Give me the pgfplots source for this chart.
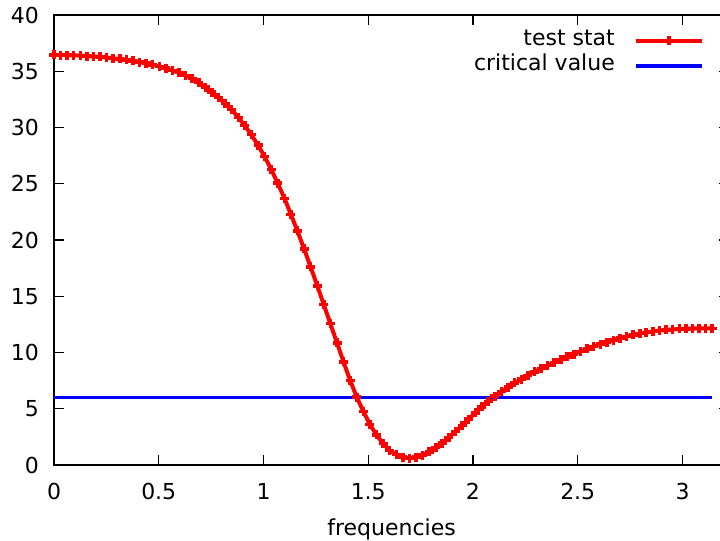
\documentclass[border=0pt]{standalone}
\usepackage{fontspec}
\setmainfont{DejaVu Sans}
\usepackage{pgfplots}
\pgfplotsset{compat=1.18}

% test statistic over frequency
\pgfplotstableread{
x      y
0.000  36.45
0.031  36.44
0.063  36.43
0.094  36.41
0.126  36.39
0.157  36.35
0.188  36.31
0.220  36.27
0.251  36.22
0.283  36.15
0.314  36.09
0.346  36.01
0.377  35.92
0.408  35.82
0.440  35.71
0.471  35.58
0.503  35.43
0.534  35.27
0.565  35.08
0.597  34.88
0.628  34.63
0.660  34.34
0.691  34.00
0.723  33.58
0.754  33.14
0.785  32.67
0.817  32.14
0.848  31.59
0.880  30.89
0.911  30.16
0.942  29.36
0.974  28.42
1.005  27.42
1.037  26.27
1.068  25.04
1.100  23.70
1.131  22.27
1.162  20.80
1.194  19.20
1.225  17.60
1.257  15.92
1.288  14.25
1.319  12.57
1.351  10.85
1.382  9.17
1.414  7.50
1.445  6.04
1.477  4.75
1.508  3.61
1.539  2.68
1.571  1.91
1.602  1.28
1.634  0.93
1.665  0.70
1.696  0.58
1.728  0.70
1.759  0.88
1.791  1.17
1.822  1.54
1.853  1.95
1.885  2.46
1.916  2.97
1.948  3.52
1.979  4.07
2.011  4.64
2.042  5.17
2.073  5.65
2.105  6.12
2.136  6.52
2.168  6.92
2.199  7.29
2.231  7.64
2.262  7.97
2.293  8.28
2.325  8.58
2.356  8.85
2.388  9.12
2.419  9.37
2.450  9.62
2.482  9.86
2.513  10.09
2.545  10.32
2.576  10.54
2.608  10.75
2.639  10.93
2.670  11.11
2.702  11.28
2.733  11.42
2.765  11.56
2.796  11.68
2.827  11.78
2.859  11.87
2.890  11.95
2.922  12.01
2.953  12.05
2.985  12.09
3.016  12.11
3.047  12.13
3.079  12.14
3.110  12.15
3.142  12.15
}\teststat

\newcommand\gfont{\fontsize{22bp}{26bp}\selectfont}

\begin{document}
\begin{tikzpicture}
\begin{axis}[
    name=ax,
    scale only axis,
    width=675bp, height=450bp,
    xmin=0, xmax=3.222,
    ymin=0, ymax=40,
    xtick={0,0.5,1,1.5,2,2.5,3},
    ytick={0,5,10,15,20,25,30,35,40},
    tick align=inside,
    major tick length=10bp,
    axis line style={line width=1.6bp},
    every tick/.style={black, line width=1.4bp},
    /pgf/number format/assume math mode=true,
    tick label style={font=\gfont},
    xticklabel style={anchor=base, yshift=-34bp, inner sep=0pt},
    yticklabel style={anchor=east, xshift=-15bp, inner sep=0pt},
    xlabel={frequencies},
    xlabel style={font=\gfont, at={(axis description cs:0.5,0)}, anchor=base, yshift=-70bp, inner sep=0pt},
    clip=false,
    legend style={at={(0.963,0.971)}, anchor=north east, draw=none, fill=none,
        inner sep=0pt, column sep=19bp, row sep=0pt, font=\gfont,
        nodes={inner sep=0pt, text height=17bp, text depth=8bp}},
    legend cell align=right,
    legend plot pos=right,
    legend image code/.code={\draw[mark repeat=2,mark phase=2] plot coordinates {(0bp,0bp) (33bp,0bp) (66bp,0bp)};},
]
\addplot[color=red, line width=4bp, mark=+, mark size=4.5bp, mark options={line width=3.6bp}] table {\teststat};
\addplot[color=blue, line width=3.5bp] coordinates {(0,6) (3.1416,6)};
\legend{test stat, critical value}
\end{axis}
\pgfresetboundingbox
\path[use as bounding box] ([shift={(-54bp,-76bp)}]ax.south west) rectangle ([shift={(666bp,15bp)}]ax.north west);
\end{tikzpicture}
\end{document}
